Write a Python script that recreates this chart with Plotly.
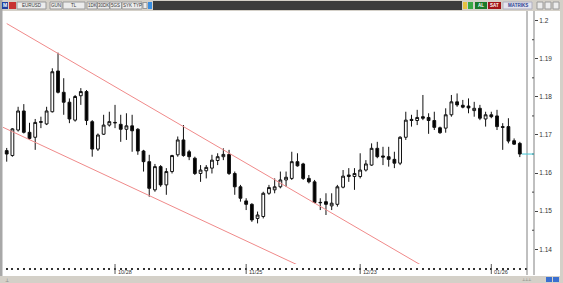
import plotly.graph_objects as go

# ---------------- data ----------------
opens = [1.1659, 1.1646, 1.1713, 1.1763, 1.1707, 1.1694, 1.1733, 1.1729, 1.1761, 1.1868,
         1.1812, 1.1786, 1.1739, 1.1803, 1.1814, 1.1735, 1.1663, 1.1702, 1.1726, 1.1733,
         1.1728, 1.1715, 1.1724, 1.1715, 1.1658, 1.1630, 1.1556, 1.1617, 1.1569, 1.1604,
         1.1648, 1.1687, 1.1656, 1.1639, 1.1599, 1.1606, 1.1613, 1.1633, 1.1643, 1.1649,
         1.1599, 1.1564, 1.1527, 1.1518, 1.1481, 1.1486, 1.1547, 1.1556, 1.1564, 1.1582,
         1.1586, 1.1630, 1.1624, 1.1586, 1.1577, 1.1522, 1.1525, 1.1514, 1.1518, 1.1563,
         1.1591, 1.1591, 1.1591, 1.1608, 1.1621, 1.1665, 1.1645, 1.1643, 1.1636, 1.1626,
         1.1694, 1.1741, 1.1738, 1.1748, 1.1746, 1.1738, 1.1719, 1.1718, 1.1753, 1.1787,
         1.1778, 1.1776, 1.1764, 1.1770, 1.1742, 1.1753, 1.1750, 1.1722, 1.1722, 1.1685,
         1.1678]
highs = [1.1666, 1.1718, 1.1774, 1.1781, 1.1732, 1.1742, 1.1748, 1.1774, 1.1875, 1.1916,
         1.1849, 1.1796, 1.1805, 1.1823, 1.1818, 1.1739, 1.1704, 1.1753, 1.1761, 1.1779,
         1.1753, 1.1757, 1.1753, 1.1718, 1.1661, 1.1648, 1.1624, 1.1621, 1.1613, 1.1648,
         1.1696, 1.1726, 1.1661, 1.1643, 1.1621, 1.1621, 1.1648, 1.1652, 1.1665, 1.1661,
         1.1604, 1.1569, 1.1534, 1.1521, 1.1499, 1.1551, 1.1569, 1.1586, 1.1604, 1.1604,
         1.1656, 1.1652, 1.1627, 1.1595, 1.1582, 1.1534, 1.1547, 1.1547, 1.1569, 1.1608,
         1.1613, 1.1613, 1.1652, 1.1634, 1.1678, 1.1682, 1.1669, 1.1669, 1.1656, 1.1697,
         1.1761, 1.1753, 1.1766, 1.1805, 1.1757, 1.1761, 1.1722, 1.1770, 1.1805, 1.1809,
         1.1792, 1.1796, 1.1787, 1.1779, 1.1761, 1.1761, 1.1766, 1.1731, 1.1744, 1.1691,
         1.1682]
lows = [1.1630, 1.1643, 1.1709, 1.1704, 1.1687, 1.1661, 1.1718, 1.1726, 1.1759, 1.1809,
        1.1753, 1.1731, 1.1735, 1.1779, 1.1726, 1.1643, 1.1658, 1.1700, 1.1722, 1.1718,
        1.1682, 1.1687, 1.1656, 1.1648, 1.1604, 1.1538, 1.1551, 1.1564, 1.1543, 1.1599,
        1.1643, 1.1643, 1.1634, 1.1595, 1.1577, 1.1586, 1.1599, 1.1621, 1.1634, 1.1595,
        1.1543, 1.1525, 1.1503, 1.1472, 1.1468, 1.1481, 1.1543, 1.1547, 1.1560, 1.1564,
        1.1582, 1.1617, 1.1582, 1.1573, 1.1521, 1.1503, 1.1490, 1.1503, 1.1512, 1.1560,
        1.1577, 1.1556, 1.1586, 1.1604, 1.1619, 1.1639, 1.1621, 1.1617, 1.1613, 1.1621,
        1.1687, 1.1722, 1.1726, 1.1739, 1.1703, 1.1713, 1.1703, 1.1706, 1.1748, 1.1774,
        1.1770, 1.1757, 1.1748, 1.1739, 1.1722, 1.1744, 1.1713, 1.1661, 1.1678, 1.1674,
        1.1642]
closes = [1.1650, 1.1716, 1.1763, 1.1707, 1.1691, 1.1733, 1.1735, 1.1763, 1.1866, 1.1812,
          1.1786, 1.1742, 1.1801, 1.1814, 1.1738, 1.1663, 1.1700, 1.1726, 1.1735, 1.1732,
          1.1715, 1.1724, 1.1711, 1.1658, 1.1630, 1.1560, 1.1617, 1.1569, 1.1604, 1.1646,
          1.1687, 1.1646, 1.1643, 1.1599, 1.1608, 1.1615, 1.1634, 1.1643, 1.1649, 1.1599,
          1.1564, 1.1534, 1.1518, 1.1477, 1.1490, 1.1547, 1.1562, 1.1564, 1.1582, 1.1589,
          1.1630, 1.1619, 1.1586, 1.1577, 1.1523, 1.1523, 1.1518, 1.1521, 1.1564, 1.1592,
          1.1595, 1.1599, 1.1608, 1.1624, 1.1665, 1.1643, 1.1642, 1.1636, 1.1626, 1.1694,
          1.1739, 1.1738, 1.1746, 1.1744, 1.1738, 1.1720, 1.1706, 1.1753, 1.1787, 1.1779,
          1.1773, 1.1771, 1.1770, 1.1744, 1.1753, 1.1748, 1.1722, 1.1720, 1.1684, 1.1676,
          1.1650]
x_idx = list(range(len(opens)))

x_tick_idx = [19, 42, 62, 85]
x_tick_text = ["10/28", "11/25", "12/23", "01/26"]
y_tick_vals = [1.14, 1.15, 1.16, 1.17, 1.18, 1.19, 1.20]
y_tick_text = ["1.14", "1.15", "1.16", "1.17", "1.18", "1.19", "1.2"]
y_minor_vals = [1.145, 1.155, 1.165, 1.175, 1.185, 1.195]

# channel (trend) lines: anchor points in (candle index, price)
upper_channel_x = [0, 74.26]
upper_channel_y = [1.19924, 1.13446]
lower_channel_x = [-0.65, 51.46]
lower_channel_y = [1.17202, 1.13559]

x_range = [-0.65, 91.26]
y_range = [1.13614, 1.20254]

# ---------------- layout helpers (pixel -> paper) ----------------
W, H = 563, 283
ML, MR, MT, MB = 3, 29, 11, 10
PW = W - ML - MR
PH = H - MT - MB


def px(x):
    return (x - ML) / PW


def py(y):
    return (H - MB - y) / PH


FRAME = "#d4d0c8"
AXC = "#808080"

fig = go.Figure()

fig.add_trace(go.Candlestick(
    x=x_idx, open=opens, high=highs, low=lows, close=closes,
    increasing=dict(line=dict(color="#111111", width=1), fillcolor="#ffffff"),
    decreasing=dict(line=dict(color="#111111", width=1), fillcolor="#000000"),
    whiskerwidth=0, showlegend=False, hoverinfo="skip",
))

for cx, cy in ((upper_channel_x, upper_channel_y), (lower_channel_x, lower_channel_y)):
    fig.add_trace(go.Scatter(x=cx, y=cy, mode="lines",
                             line=dict(color="#f08a8a", width=1),
                             showlegend=False, hoverinfo="skip"))

shapes = []
annotations = []


def rect(x0, y0, x1, y1, fill, line=None):
    shapes.append(dict(type="rect", xref="paper", yref="paper",
                       x0=px(x0), x1=px(x1), y0=py(y1), y1=py(y0),
                       fillcolor=fill, line=dict(width=1 if line else 0, color=line or fill),
                       layer="above"))


def label(x, y, text, color="#222", size=5, anchor="center", bold=False):
    annotations.append(dict(xref="paper", yref="paper", x=px(x), y=py(y),
                            text=("<b>%s</b>" % text) if bold else text,
                            showarrow=False, xanchor=anchor, yanchor="middle",
                            font=dict(size=size, color=color, family="Liberation Sans")))


# outer window frame
rect(0, 0, 563, 11, FRAME)
rect(0, 0, 2.5, 283, "#a8a8a8")
rect(560, 0, 563, 283, FRAME)
rect(0, 276, 563, 283, FRAME)

# toolbar
rect(2, 2, 8, 9, "#1f3f9f")
label(5, 5.5, "M", "#ffffff", 5, bold=True)
rect(9, 2, 16, 9, "#c83232")
for x0, x1, t in ((17, 46, "EURUSD"), (50, 62, "GUN"), (63, 85, "TL"), (87, 97, "1DK"),
                  (97.5, 109.5, "30DK"), (110, 121.5, "5GS"), (122, 142, "SYK TYP")):
    rect(x0, 2, x1, 9, "#ececec", "#9a9a9a")
    label((x0 + x1) / 2, 5.5, t, "#333", 4.5)
rect(143, 2.5, 147, 8.5, "#ececec", "#9a9a9a")
rect(148, 2, 152, 9, "#3a8ee0")
rect(153, 1, 462, 10, "#3c3c3c")
rect(463, 2, 467, 9, "#e6c040")
rect(468, 2, 473, 9, "#39a845")
rect(475, 2, 487, 9, "#1b7a2a")
label(481, 5.5, "AL", "#ffffff", 4.5, bold=True)
rect(488, 2, 501, 9, "#a3161a")
label(494.5, 5.5, "SAT", "#ffffff", 4.5, bold=True)
rect(503, 2, 532, 9, "#e4e4ee", "#b0b0c0")
label(517.5, 5.5, "MATRIKS", "#2a3f8f", 4.5, bold=True)
for x0 in (537, 545, 553):
    rect(x0, 2, x0 + 6, 9, "#ececec", "#9a9a9a")

# bottom status band icons
label(7, 279.5, "⊥", "#666", 5)
label(527, 279.5, "⊥⊥⊥", "#666", 4)
rect(546, 277, 552, 282, "#3a6fd0")
rect(553, 277, 559, 282, "#3a6fd0")

# right-hand boundary and price axis lines
for xv in (527, 534):
    shapes.append(dict(type="line", xref="paper", yref="paper",
                       x0=px(xv), x1=px(xv), y0=py(275), y1=py(11),
                       line=dict(color=AXC, width=1), layer="above"))

# major date tick marks and labels
for xi, t in zip(x_tick_idx, x_tick_text):
    shapes.append(dict(type="line", xref="x", yref="paper", x0=xi, x1=xi,
                       y0=py(274), y1=py(264), line=dict(color="#555", width=1)))
    annotations.append(dict(xref="x", yref="paper", x=xi, y=py(271.5), text=t,
                            showarrow=False, xanchor="left", yanchor="middle", xshift=1,
                            font=dict(size=5.5, color="#333", family="Liberation Sans")))

# minor price ticks
for v in y_minor_vals:
    shapes.append(dict(type="line", xref="paper", yref="y", x0=px(532), x1=px(534),
                       y0=v, y1=v, line=dict(color="#444", width=1)))

# last price marker
shapes.append(dict(type="line", xref="paper", yref="y", x0=px(522), x1=px(534),
                   y0=closes[-1], y1=closes[-1], line=dict(color="#40c8d8", width=1)))

fig.update_layout(
    width=W, height=H,
    margin=dict(l=ML, r=MR, t=MT, b=MB, pad=0),
    paper_bgcolor="#ffffff", plot_bgcolor="#ffffff",
    showlegend=False,
    xaxis=dict(domain=[0, px(527)], range=x_range, anchor="free", position=py(267),
               rangeslider=dict(visible=False), showgrid=False, zeroline=False,
               showline=False, tickmode="linear", tick0=0, dtick=1,
               ticks="outside", ticklen=2, tickwidth=1.6, tickcolor="#333",
               showticklabels=False, fixedrange=True),
    yaxis=dict(domain=[py(264), 1], range=y_range, anchor="free", position=1,
               side="right", showgrid=False, zeroline=False, showline=False,
               tickmode="array", tickvals=y_tick_vals, ticktext=y_tick_text,
               ticks="outside", ticklen=3, tickcolor="#444", tickwidth=1,
               tickfont=dict(size=6.5, color="#333", family="Liberation Sans"),
               fixedrange=True),
    shapes=shapes, annotations=annotations,
)

fig.write_html("out.html")
